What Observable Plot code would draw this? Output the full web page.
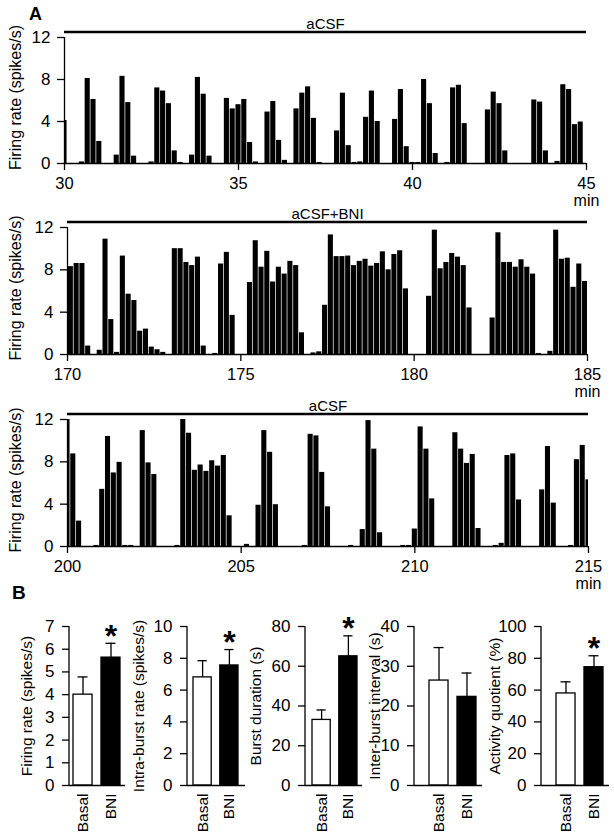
<!DOCTYPE html>
<html><head><meta charset="utf-8">
<script src="https://cdn.jsdelivr.net/npm/d3@7"></script>
<script src="https://cdn.jsdelivr.net/npm/@observablehq/plot@0.6"></script>
<style>
body{margin:0;background:#fff;}
#root{position:relative;width:614px;height:836px;overflow:hidden;font-family:'Liberation Sans',Arial,sans-serif;color:#000;}
#root > svg{position:absolute;left:0;}
.letter{position:absolute;font-weight:bold;line-height:1;font-family:'Liberation Sans',Arial,sans-serif;}
</style></head>
<body><div id="root"></div>
<script>
// ---------- Data: panel A (10-s bins, firing rate in spikes/s) ----------
const binMinutes = 1 / 6;
const yTicksA = [0, 4, 8, 12];
const yLabelA = "Firing rate (spikes/s)";
const treatments = ["aCSF", "aCSF+BNI", "aCSF"];
const xTicks1 = [30, 35, 40, 45];
const xTicks2 = [170, 175, 180, 185];
const xTicks3 = [200, 205, 210, 215];
const firstBin = [30, 169.93, 200];
const rates1 = [4.1,0,0,0.15,8.1,6.1,2.1,0,0,0.8,8.3,5.8,0.7,0,0,0.15,7.2,6.9,5.7,1.2,
  0.1,0,0.8,8.2,6.6,0.7,0,0,6.2,5.2,5.6,6.1,2.0,0.15,0,4.9,5.9,2.2,0.3,0,
  5.2,6.7,7.3,4.3,0.1,0,0,3.1,6.7,1.7,0.1,0.15,4.4,6.9,4.0,0,0,4.2,7.05,1.6,
  0.1,0.1,8.0,5.7,0.95,0,0.1,7.2,7.45,3.8,0,0,0,5.1,6.8,5.7,1.2,0,0,0,
  0,6.05,5.85,1.2,0,0.2,7.5,7.05,3.7,3.95,0];
const rates2 = [8.0,8.3,8.6,8.6,0.8,0,0.4,10.9,3.3,0.2,9.3,5.7,5.1,2.2,2.4,0.7,0.45,0.2,0,10.0,
  10.0,8.7,8.4,9.2,0.8,0,0.1,8.55,9.65,3.7,0,0,6.8,10.75,8.25,9.75,6.85,8.25,7.6,8.8,
  8.4,2.05,0,0.15,0.25,4.65,11.3,9.25,9.25,9.3,8.4,8.8,9.0,8.35,8.6,9.7,8.0,9.45,9.8,6.2,
  0,0,0,5.5,11.75,8.1,8.7,9.55,9.2,8.4,4.4,0,0,0,3.45,11.5,8.7,8.7,8.25,8.95,
  8.25,7.6,0.1,0,0.3,11.75,9.0,9.1,6.35,8.55,6.9];
const rates3 = [12,8.75,2.4,0,0,0.1,5.4,10.4,6.95,7.95,0.1,0.1,0,10.95,7.9,6.8,0,0,0,0.1,
  12,10.7,7.2,7.7,7.1,8.1,7.6,8.6,2.9,0,0,0.2,0,3.9,10.95,8.9,3.95,0,0,0,
  0,0.1,10.6,10.45,7.0,3.75,0,0,0,0.1,0,1.6,11.9,9.2,1.3,0,0,0,0.1,0.1,
  1.65,11.3,9.2,4.5,0,0,0,10.75,9.2,7.85,8.7,1.7,0,0,0.1,0.3,8.6,8.75,4.4,0,
  0,0,5.35,9.45,4.1,0,0,0.1,8.2,9.55,6.3];

// ---------- Data: panel B (mean and s.e.m.) ----------
const groups = ["Basal", "BNI"];
const firingRate = [4.0, 5.63],      firingRateSem = [0.78, 0.63];
const intraBurst = [6.8, 7.55],      intraBurstSem = [1.05, 1.0];
const burstDuration = [33, 65],      burstDurationSem = [5, 10.3];
const interBurst = [26.4, 22.3],     interBurstSem = [8.3, 6.0];
const activity = [57.9, 74.4],       activitySem = [7.3, 7.2];
const measureLabels = ["Firing rate (spikes/s)", "Intra-burst rate (spikes/s)", "Burst duration (s)", "Inter-burst interval (s)", "Activity quotient (%)"];
const measureTicks = [[0,1,2,3,4,5,6,7],[0,2,4,6,8,10],[0,20,40,60,80],[0,10,20,30,40],[0,20,40,60,80,100]];
const significant = [[false,true],[false,true],[false,true],[false,false],[false,true]];

// ---------- Layout ----------
const root = document.getElementById("root");
const font = "'Liberation Sans', Arial, sans-serif";
const baseStyle = {fontFamily: font, fontSize: "16px", background: "transparent", color: "black", overflow: "visible"};

function place(el, top) { el.style.position = "absolute"; el.style.top = top + "px"; el.style.left = "0px"; root.appendChild(el); }

function histogram(rates, start, ticks, treatment, lay) {
  const domain = [ticks[0], ticks[ticks.length - 1]];
  const bins = rates.map((v, i) => ({t: start + i * binMinutes, v}));
  return Plot.plot({
    width: 614, height: 210,
    marginTop: 37, marginBottom: 210 - 37 - lay.frameH, marginLeft: lay.left, marginRight: lay.right,
    x: {domain}, y: {domain: [0, 12]},
    style: baseStyle,
    marks: [
      Plot.rectY(bins, {x1: d => d.t - binMinutes / 2, x2: d => d.t + binMinutes / 2, y1: 0, y2: "v",
        fill: "black", insetLeft: 0.35, insetRight: 0.35, clip: true}),
      Plot.ruleY([0], {strokeWidth: 1.3}),
      Plot.ruleX([domain[0]], {y1: 0, y2: 12, strokeWidth: 1.3}),
      Plot.axisY({ticks: yTicksA, tickSize: 7, tickPadding: 7, label: null, strokeWidth: 1.3, fontSize: 17, tickFormat: d => String(d)}),
      Plot.axisX({ticks, tickSize: 7, tickPadding: 7, label: null, strokeWidth: 1.3, fontSize: 16.5, tickFormat: d => String(d)}),
      Plot.ruleY([12], {x1: domain[0], x2: domain[1], dy: -5.5, strokeWidth: 2.6}),
      Plot.text([treatment], {x: (domain[0] + domain[1]) / 2, y: 12, dy: -8.5, lineAnchor: "bottom", fontSize: 15}),
      Plot.text(["min"], {x: domain[1], frameAnchor: "bottom", dy: 42, fontSize: 16}),
      Plot.text([yLabelA], {frameAnchor: "left", textAnchor: "middle", rotate: -90, dx: 15 - lay.left, dy: -3, fontSize: 16})
    ]
  });
}

const histLayouts = [
  {top: 0, left: 64, right: 28, frameH: 126},
  {top: 190, left: 67, right: 27, frameH: 127},
  {top: 382, left: 67, right: 26, frameH: 127}
];
[rates1, rates2, rates3].forEach((r, i) => {
  const ticks = [xTicks1, xTicks2, xTicks3][i];
  place(histogram(r, firstBin[i], ticks, treatments[i], histLayouts[i]), histLayouts[i].top);
});

function barChart(values, sem, sig, label, yTicks, lay) {
  const data = groups.map((g, i) => ({g, v: values[i], e: sem[i], s: sig[i]}));
  const yMax = yTicks[yTicks.length - 1];
  const yAxisLine = (index, scales, vals, dims) => {
    const l = document.createElementNS("http://www.w3.org/2000/svg", "line");
    l.setAttribute("x1", dims.marginLeft); l.setAttribute("x2", dims.marginLeft);
    l.setAttribute("y1", scales.y(yMax)); l.setAttribute("y2", scales.y(0));
    l.setAttribute("stroke", "black"); l.setAttribute("stroke-width", 1.3);
    return l;
  };
  return Plot.plot({
    width: 614, height: 276,
    marginTop: 66, marginBottom: 51, marginLeft: lay.axisX, marginRight: 614 - lay.rightX,
    x: {type: "band", domain: groups, range: lay.bars, paddingInner: 0.32, paddingOuter: 0, round: false},
    y: {domain: [0, yMax]},
    color: {domain: groups, range: ["white", "black"]},
    style: baseStyle,
    marks: [
      Plot.barY(data, {x: "g", y: "v", fill: "g", stroke: "black", strokeWidth: 1.3}),
      Plot.ruleX(data, {x: "g", y1: "v", y2: d => d.v + d.e, strokeWidth: 1.3}),
      Plot.tickY(data, {x: "g", y: d => d.v + d.e, insetLeft: 4.5, insetRight: 4.5, strokeWidth: 1.3}),
      Plot.text(data.filter(d => d.s), {x: "g", y: d => d.v + d.e, text: () => "*", dy: -7, fontSize: 32, fontWeight: "bold"}),
      Plot.ruleY([0], {strokeWidth: 1.3}),
      yAxisLine,
      Plot.axisY({ticks: yTicks, tickSize: 7, tickPadding: 8, label: null, strokeWidth: 1.3, fontSize: 17, tickFormat: d => String(d)}),
      Plot.axisX({tickSize: 0, tickPadding: 8, tickRotate: -90, label: null, fontSize: 15.5}),
      Plot.text([label], {frameAnchor: "left", textAnchor: "middle", rotate: -90, dx: lay.labelX - lay.axisX, fontSize: 15.5})
    ]
  });
}

const barLayouts = [
  {axisX: 69, rightX: 125, bars: [73, 120], labelX: 27},
  {axisX: 187, rightX: 245, bars: [193, 238], labelX: 138.5},
  {axisX: 305, rightX: 362, bars: [312, 357], labelX: 256},
  {axisX: 414, rightX: 482, bars: [429, 476], labelX: 375},
  {axisX: 541, rightX: 609, bars: [556, 603], labelX: 495}
];
const measureValues = [firingRate, intraBurst, burstDuration, interBurst, activity];
const measureSems = [firingRateSem, intraBurstSem, burstDurationSem, interBurstSem, activitySem];
measureValues.forEach((vals, i) => {
  place(barChart(vals, measureSems[i], significant[i], measureLabels[i], measureTicks[i], barLayouts[i]), 560);
});

// Panel letters
[["A", 29, 4.6, 18], ["B", 12, 582.5, 19]].forEach(([t, x, y, s]) => {
  const d = document.createElement("div");
  d.className = "letter"; d.textContent = t;
  d.style.left = x + "px"; d.style.top = y + "px"; d.style.fontSize = s + "px";
  root.appendChild(d);
});
</script>
</body></html>
